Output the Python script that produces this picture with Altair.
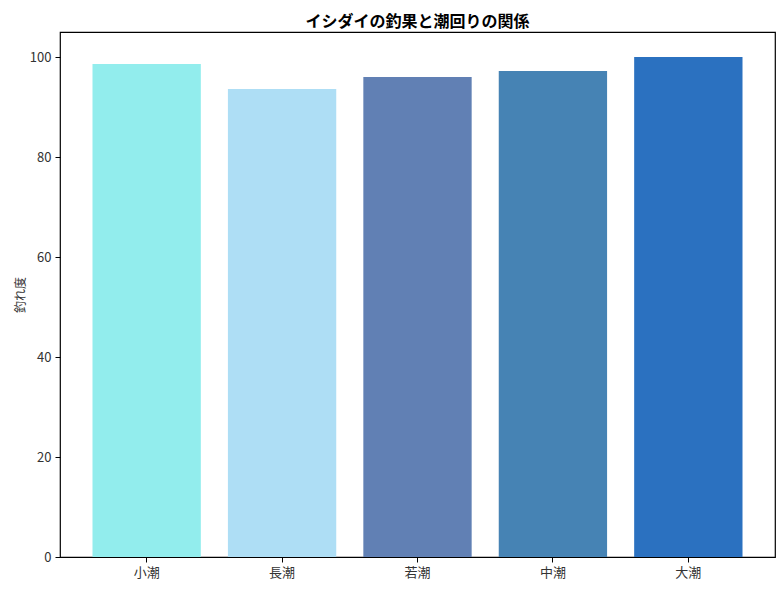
import altair as alt
import pandas as pd

categories = ["小潮", "長潮", "若潮", "中潮", "大潮"]
values = [98.6, 93.6, 96.0, 97.2, 100.0]
colors = ["#92EDED", "#AEDEF5", "#6180B4", "#4683B4", "#2B71C0"]

df = pd.DataFrame({"潮": categories, "釣れ度": values})

FONT = "Noto Sans CJK JP"

chart = alt.Chart(df).mark_bar().encode(
    x=alt.X("潮:N", sort=categories,
            scale=alt.Scale(paddingInner=0.2, paddingOuter=0.24),
            axis=alt.Axis(title=None, labelAngle=0, tickSize=5, labelPadding=4,
                          labelFontSize=13, labelColor="#333", tickColor="#000",
                          domain=False)),
    y=alt.Y("釣れ度:Q", scale=alt.Scale(domain=[0, 105], nice=False),
            axis=alt.Axis(values=[0, 20, 40, 60, 80, 100], grid=False, tickSize=5,
                          labelPadding=4, labelFontSize=13, labelColor="#333",
                          tickColor="#000", domain=False,
                          titleFontSize=12, titleFontWeight="normal",
                          titleColor="#333", titlePadding=2)),
    color=alt.Color("潮:N", sort=categories,
                    scale=alt.Scale(domain=categories, range=colors), legend=None),
).properties(
    width=715, height=525,
    title=alt.Title("イシダイの釣果と潮回りの関係", fontSize=16, fontWeight="bold",
                    anchor="middle", offset=2, color="#000"),
    autosize=alt.AutoSizeParams(type="none"),
    padding={"left": 52, "top": 24, "right": 1, "bottom": 25},
).configure(font=FONT).configure_view(stroke="#000", strokeWidth=1.2).configure_axis(
    labelFont=FONT, titleFont=FONT
).configure_title(font=FONT)

chart.save("out.html", embed_options={"renderer": "svg", "actions": False})
